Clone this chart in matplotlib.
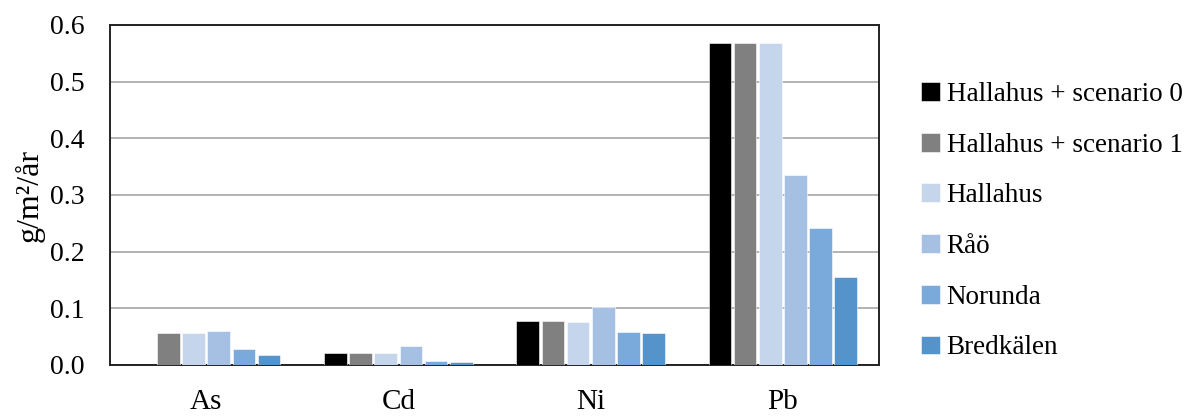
import matplotlib
matplotlib.use("Agg")
import matplotlib.pyplot as plt
import numpy as np

categories = ["As", "Cd", "Ni", "Pb"]
series = ["Hallahus + scenario 0", "Hallahus + scenario 1", "Hallahus", "Råö", "Norunda", "Bredkälen"]
values = {
    "Hallahus + scenario 0": [0.0, 0.022, 0.078, 0.568],
    "Hallahus + scenario 1": [0.056, 0.022, 0.078, 0.568],
    "Hallahus": [0.056, 0.022, 0.076, 0.568],
    "Råö": [0.060, 0.034, 0.103, 0.336],
    "Norunda": [0.028, 0.007, 0.059, 0.242],
    "Bredkälen": [0.017, 0.006, 0.056, 0.155],
}
colors = ["#000000", "#808080", "#C5D5EB", "#A5C0E3", "#7AAADC", "#5593CB"]
yticks = [0.0, 0.1, 0.2, 0.3, 0.4, 0.5, 0.6]

plt.rcParams['font.family'] = ['Liberation Serif', 'DejaVu Serif']

fig = plt.figure(figsize=(11.89, 4.17), dpi=100)
ax = fig.add_axes([110/1189, 1-365/417, (879-110)/1189, (365-25)/417])

x = np.arange(len(categories))
pitch = 0.131
width = 0.118
for i, s in enumerate(series):
    ax.bar(x + (i - 2.5) * pitch, values[s], width=width, color=colors[i],
           edgecolor='white', linewidth=0.4, label=s, zorder=3)

ax.set_xlim(-0.5, 3.5)
ax.set_ylim(0, 0.6)
ax.set_yticks(yticks)
ax.set_yticklabels([f"{t:.1f}" for t in yticks], fontsize=20)
ax.set_xticks(x)
ax.set_xticklabels(categories, fontsize=21)
ax.tick_params(axis='both', length=0)
ax.tick_params(axis='x', pad=17)
ax.tick_params(axis='y', pad=18)
ax.grid(axis='y', color='#A6A6A6', linewidth=1.2, zorder=0)
for sp in ax.spines.values():
    sp.set_color('#222222')
    sp.set_linewidth(1.4)
ax.set_ylabel("g/m²/år", fontsize=23)
ax.yaxis.set_label_coords(-0.085, 0.5)

leg = ax.legend(loc='upper left', bbox_to_anchor=(910/1189, 1-71/417), bbox_transform=fig.transFigure,
                frameon=False, fontsize=19.5, handlelength=0.7, handleheight=0.7,
                handletextpad=0.25, labelspacing=0.95, borderaxespad=0)

fig.savefig("out.png", dpi=100)
